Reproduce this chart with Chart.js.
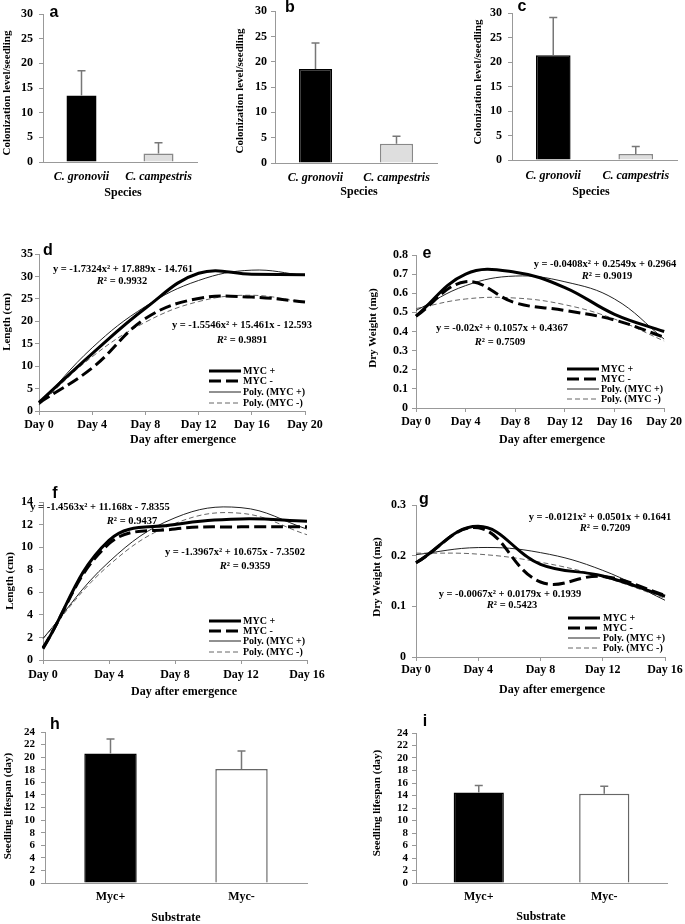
<!DOCTYPE html>
<html>
<head>
<meta charset="utf-8">
<script src="https://cdn.jsdelivr.net/npm/chart.js@4.4.0/dist/chart.umd.min.js"></script>
<style>
html, body { margin: 0; padding: 0; background: #fff; }
#page { position: relative; width: 685px; height: 924px; overflow: hidden; background: #fff; }
canvas { position: absolute; }
</style>
</head>
<body>
<div id="page">
  <canvas id="cA"></canvas><canvas id="cB"></canvas><canvas id="cC"></canvas>
  <canvas id="cD"></canvas><canvas id="cE"></canvas>
  <canvas id="cF"></canvas><canvas id="cG"></canvas>
  <canvas id="cH"></canvas><canvas id="cI"></canvas>
</div>
<script>
// ==================== Data ====================
const speciesLabels = ['C. gronovii', 'C. campestris'];
const colA = [13.5, 1.7];   const colAErr = [5.0, 2.2];
const colB = [18.6, 3.8];   const colBErr = [5.1, 1.5];
const colC = [21.4, 1.25];  const colCErr = [7.7, 1.5];

const substrateLabels = ['Myc+', 'Myc-'];
const lifeH = [20.6, 18.1]; const lifeHErr = [2.3, 2.9];
const lifeI = [14.5, 14.3]; const lifeIErr = [1.1, 1.2];

const days20 = ['Day 0', 'Day 4', 'Day 8', 'Day 12', 'Day 16', 'Day 20'];
const days16 = ['Day 0', 'Day 4', 'Day 8', 'Day 12', 'Day 16'];
const seriesNames = ['MYC +', 'MYC -', 'Poly. (MYC +)', 'Poly. (MYC -)'];

// d: length, 20 days
const dMycPlus  = [1.9, 12.8, 22.9, 30.7, 30.5, 30.4];
const dMycMinus = [1.8, 9.6, 20.6, 25.1, 25.4, 24.3];
const dPolyPlus = [1.4, 14.1, 23.3, 29.1, 31.4, 30.2];
const dPolyMinus = [1.3, 12.1, 19.8, 24.4, 25.8, 24.2];
// e: dry weight, 20 days
const eMycPlus  = [0.48, 0.70, 0.71, 0.63, 0.49, 0.40];
const eMycMinus = [0.48, 0.66, 0.55, 0.51, 0.46, 0.37];
const ePolyPlus = [0.51, 0.64, 0.69, 0.66, 0.57, 0.36];
const ePolyMinus = [0.52, 0.57, 0.575, 0.54, 0.465, 0.35];
// f: length, 16 days
const fMycPlus  = [1.0, 10.6, 12.0, 12.5, 12.3];
const fMycMinus = [1.1, 10.3, 11.6, 11.8, 11.8];
const fPolyPlus = [1.9, 8.7, 12.6, 13.5, 11.6];
const fPolyMinus = [1.9, 8.4, 12.1, 13.0, 11.1];
// g: dry weight, 16 days
const gMycPlus  = [0.186, 0.258, 0.183, 0.160, 0.120];
const gMycMinus = [0.186, 0.255, 0.148, 0.159, 0.122];
const gPolyPlus = [0.202, 0.216, 0.206, 0.171, 0.112];
const gPolyMinus = [0.205, 0.203, 0.187, 0.158, 0.116];

// ==================== Fonts / helpers ====================
const SERIF = '"Liberation Serif", "Times New Roman", serif';
const SANS = '"Liberation Sans", Arial, sans-serif';
const F_EQ = 'bold 10.5px ' + SERIF;
const F_R = 'italic bold 10.5px ' + SERIF;
const F_TITLE = 'bold 12px ' + SERIF;
const F_YTITLE = 'bold 11px ' + SERIF;
const F_LEG = 'bold 10px ' + SERIF;
const F_LETTER = 'bold 16px ' + SANS;
const AXIS_GRAY = '#999';
const Y_W = 30, X_H = 30;

const EXTRAS = {};

function eq(x, y, text) { return { x, y, parts: [[text, F_EQ]] }; }
function r2(x, y, val) { return { x, y, parts: [['R', F_R], ['\u00b2 = ' + val, F_EQ]] }; }

function drawRich(ctx, parts, cx, cy) {
  let total = 0;
  parts.forEach(p => { ctx.font = p[1]; total += ctx.measureText(p[0]).width; });
  let x = cx - total / 2;
  ctx.textAlign = 'left';
  ctx.textBaseline = 'middle';
  parts.forEach(p => { ctx.font = p[1]; ctx.fillText(p[0], x, cy); x += ctx.measureText(p[0]).width; });
}

const extrasPlugin = {
  id: 'extras',
  afterDatasetsDraw(chart) {
    const ex = EXTRAS[chart.canvas.id];
    if (!ex || !ex.errors) return;
    const ctx = chart.ctx, ys = chart.scales.y;
    const meta = chart.getDatasetMeta(0);
    const vals = chart.data.datasets[0].data;
    ctx.save();
    ctx.strokeStyle = '#777';
    ctx.lineWidth = 1.5;
    meta.data.forEach((bar, i) => {
      const yTop = ys.getPixelForValue(vals[i] + ex.errors[i]);
      ctx.beginPath();
      ctx.moveTo(bar.x, bar.y); ctx.lineTo(bar.x, yTop);
      ctx.moveTo(bar.x - 4, yTop); ctx.lineTo(bar.x + 4, yTop);
      ctx.stroke();
    });
    ctx.restore();
  },
  afterDraw(chart) {
    const ex = EXTRAS[chart.canvas.id];
    if (!ex) return;
    const ctx = chart.ctx, box = ex.box;
    ctx.save();
    ctx.translate(-box.x, -box.y);
    ctx.fillStyle = '#000';
    // panel letter
    ctx.font = F_LETTER; ctx.textAlign = 'center'; ctx.textBaseline = 'middle';
    ctx.fillText(ex.letter[0], ex.letter[1], ex.letter[2]);
    // axis titles
    ctx.font = F_TITLE;
    ctx.fillText(ex.xTitle[0], ex.xTitle[1], ex.xTitle[2]);
    ctx.save();
    ctx.translate(ex.yTitle[1], ex.yTitle[2]);
    ctx.rotate(-Math.PI / 2);
    ctx.font = F_YTITLE;
    ctx.fillText(ex.yTitle[0], 0, 0);
    ctx.restore();
    // trendline equations
    (ex.notes || []).forEach(n => drawRich(ctx, n.parts, n.x, n.y));
    // legend
    if (ex.legend) {
      const lg = ex.legend;
      chart.data.datasets.forEach((ds, i) => {
        const y = lg.rows[i];
        ctx.save();
        ctx.strokeStyle = ds.borderColor;
        ctx.lineWidth = ds.borderWidth;
        ctx.setLineDash(ds.borderDash || []);
        ctx.beginPath(); ctx.moveTo(lg.x1, y); ctx.lineTo(lg.x2, y); ctx.stroke();
        ctx.restore();
        ctx.font = F_LEG; ctx.textAlign = 'left'; ctx.textBaseline = 'middle';
        ctx.fillText(ds.label, lg.tx, y);
      });
    }
    ctx.restore();
  }
};
Chart.register(extrasPlugin);

function setupCanvas(id, box) {
  const c = document.getElementById(id);
  c.width = box.w; c.height = box.h;
  c.style.left = box.x + 'px'; c.style.top = box.y + 'px';
  c.style.width = box.w + 'px'; c.style.height = box.h + 'px';
  return c;
}

function padFor(box, plot) {
  return {
    left: plot.l - box.x - Y_W,
    top: plot.t - box.y,
    right: box.x + box.w - plot.r,
    bottom: box.y + box.h - plot.b - X_H
  };
}

function yAxis(max, step, tickLen, pad, size) {
  return {
    min: 0, max: max,
    ticks: { stepSize: step, padding: pad, color: '#000', autoSkip: false,
      font: { family: SERIF, size: size || 12, weight: 'bold' } },
    grid: { display: true, drawOnChartArea: false, drawTicks: true, tickLength: tickLen, color: AXIS_GRAY },
    border: { display: true, color: AXIS_GRAY, width: 1 },
    afterFit: s => { s.width = Y_W; }
  };
}

function xAxis(offset, tickLen, pad, italic) {
  return {
    offset: offset,
    ticks: { padding: pad, color: '#000', autoSkip: false, maxRotation: 0,
      font: { family: SERIF, size: 12, weight: 'bold', style: italic ? 'italic' : 'normal' } },
    grid: { display: tickLen > 0, drawOnChartArea: false, drawTicks: tickLen > 0, tickLength: tickLen, color: AXIS_GRAY },
    border: { display: true, color: AXIS_GRAY, width: 1 },
    afterFit: s => { s.height = X_H; }
  };
}

// ==================== Bar panels ====================
function barChart(id, box, plot, o) {
  const canvas = setupCanvas(id, box);
  EXTRAS[id] = Object.assign({ box: box }, o.extras);
  return new Chart(canvas, {
    type: 'bar',
    data: {
      labels: o.labels,
      datasets: [{ data: o.values, backgroundColor: o.fills, borderColor: o.borders, borderWidth: 1.5,
        barPercentage: o.barPct, categoryPercentage: 1 }]
    },
    options: {
      responsive: false, animation: false, devicePixelRatio: 1,
      layout: { padding: padFor(box, plot) },
      plugins: { legend: { display: false }, tooltip: { enabled: false } },
      scales: { x: xAxis(true, 0, o.xPad, o.italic), y: yAxis(o.yMax, o.yStep, 4, o.yPad, o.ySize) }
    }
  });
}

// ==================== Line panels ====================
function lineChart(id, box, plot, o) {
  const canvas = setupCanvas(id, box);
  EXTRAS[id] = Object.assign({ box: box }, o.extras);
  const mk = (label, data, width, color, dash) => ({
    label, data, borderColor: color, borderWidth: width, borderDash: dash,
    pointRadius: 0, tension: 0.4, fill: false
  });
  return new Chart(canvas, {
    type: 'line',
    data: {
      labels: o.labels,
      datasets: [
        mk(seriesNames[0], o.series[0], 3, '#000', []),
        mk(seriesNames[1], o.series[1], 3, '#000', [12, 5]),
        mk(seriesNames[2], o.series[2], 1, '#222', []),
        mk(seriesNames[3], o.series[3], 1, '#666', [5, 3])
      ]
    },
    options: {
      responsive: false, animation: false, devicePixelRatio: 1,
      layout: { padding: padFor(box, plot) },
      plugins: { legend: { display: false }, tooltip: { enabled: false } },
      scales: { x: xAxis(false, 4, o.xPad, false), y: yAxis(o.yMax, o.yStep, 4, o.yPad) }
    }
  });
}

// a, b, c
barChart('cA', { x: 0, y: 0, w: 228, h: 205 }, { l: 43, r: 197, t: 14, b: 162 }, {
  labels: speciesLabels, values: colA, fills: ['#000', '#dedede'], borders: ['#000', '#888'],
  barPct: 0.39, xPad: 8, italic: true, yMax: 30, yStep: 5, yPad: 6,
  extras: { errors: colAErr, letter: ['a', 54, 13], xTitle: ['Species', 123, 193], yTitle: ['Colonization level/seedling', 7, 93] }
});
barChart('cB', { x: 228, y: 0, w: 227, h: 205 }, { l: 275, r: 437, t: 10, b: 163 }, {
  labels: speciesLabels, values: colB, fills: ['#000', '#dedede'], borders: ['#000', '#888'],
  barPct: 0.41, xPad: 8, italic: true, yMax: 30, yStep: 5, yPad: 4,
  extras: { errors: colBErr, letter: ['b', 290, 8], xTitle: ['Species', 359, 192], yTitle: ['Colonization level/seedling', 240, 91] }
});
barChart('cC', { x: 455, y: 0, w: 230, h: 205 }, { l: 512, r: 677, t: 8, b: 160 }, {
  labels: speciesLabels, values: colC, fills: ['#000', '#dedede'], borders: ['#000', '#888'],
  barPct: 0.42, xPad: 9, italic: true, yMax: 30, yStep: 5, yPad: 6,
  extras: { errors: colCErr, letter: ['c', 522, 7], xTitle: ['Species', 591, 192], yTitle: ['Colonization level/seedling', 478, 82] }
});

// d, e
lineChart('cD', { x: 0, y: 230, w: 345, h: 220 }, { l: 39, r: 305, t: 254, b: 411 }, {
  labels: days20, series: [dMycPlus, dMycMinus, dPolyPlus, dPolyMinus],
  xPad: 3, yMax: 35, yStep: 5, yPad: 2,
  extras: {
    letter: ['d', 48, 251], xTitle: ['Day after emergence', 183, 440], yTitle: ['Length (cm)', 7, 322],
    notes: [eq(123, 269, 'y = -1.7324x\u00b2 + 17.889x - 14.761'), r2(122, 281, '0.9932'),
            eq(242, 325, 'y = -1.5546x\u00b2 + 15.461x - 12.593'), r2(242, 340, '0.9891')],
    legend: { x1: 209, x2: 241, tx: 243, rows: [371, 381, 392, 403] }
  }
});
lineChart('cE', { x: 345, y: 230, w: 340, h: 220 }, { l: 416, r: 667, t: 255, b: 408 }, {
  labels: days20, series: [eMycPlus, eMycMinus, ePolyPlus, ePolyMinus],
  xPad: 3, yMax: 0.8, yStep: 0.1, yPad: 4,
  extras: {
    letter: ['e', 427, 254], xTitle: ['Day after emergence', 552, 440], yTitle: ['Dry Weight (mg)', 373, 328],
    notes: [eq(605, 264, 'y = -0.0408x\u00b2 + 0.2549x + 0.2964'), r2(607, 276, '0.9019'),
            eq(502, 328, 'y = -0.02x\u00b2 + 0.1057x + 0.4367'), r2(500, 342, '0.7509')],
    legend: { x1: 567, x2: 599, tx: 601, rows: [369, 379, 389, 399] }
  }
});

// f, g
lineChart('cF', { x: 0, y: 470, w: 345, h: 235 }, { l: 43, r: 307, t: 502, b: 660 }, {
  labels: days16, series: [fMycPlus, fMycMinus, fPolyPlus, fPolyMinus],
  xPad: 4, yMax: 14, yStep: 2, yPad: 6,
  extras: {
    letter: ['f', 55, 494], xTitle: ['Day after emergence', 184, 692], yTitle: ['Length (cm)', 10, 581],
    notes: [eq(100, 507, 'y = -1.4563x\u00b2 + 11.168x - 7.8355'), r2(132, 521, '0.9437'),
            eq(235, 552, 'y = -1.3967x\u00b2 + 10.675x - 7.3502'), r2(245, 566, '0.9359')],
    legend: { x1: 209, x2: 241, tx: 243, rows: [621, 631, 641, 652] }
  }
});
lineChart('cG', { x: 345, y: 470, w: 340, h: 235 }, { l: 416, r: 665, t: 505, b: 657 }, {
  labels: days16, series: [gMycPlus, gMycMinus, gPolyPlus, gPolyMinus],
  xPad: 2, yMax: 0.3, yStep: 0.1, yPad: 6,
  extras: {
    letter: ['g', 424, 500], xTitle: ['Day after emergence', 552, 690], yTitle: ['Dry Weight (mg)', 377, 577],
    notes: [eq(600, 517, 'y = -0.0121x\u00b2 + 0.0501x + 0.1641'), r2(605, 528, '0.7209'),
            eq(510, 594, 'y = -0.0067x\u00b2 + 0.0179x + 0.1939'), r2(512, 605, '0.5423')],
    legend: { x1: 568, x2: 600, tx: 603, rows: [618, 628, 638, 648] }
  }
});

// h, i
barChart('cH', { x: 0, y: 705, w: 345, h: 219 }, { l: 45, r: 307, t: 732, b: 883 }, {
  labels: substrateLabels, values: lifeH, fills: ['#000', '#fff'], borders: ['#000', '#666'],
  barPct: 0.40, xPad: 7, italic: false, yMax: 24, yStep: 2, yPad: 6, ySize: 11,
  extras: { errors: lifeHErr, letter: ['h', 55, 725], xTitle: ['Substrate', 176, 918], yTitle: ['Seedling lifespan (day)', 8, 806] }
});
barChart('cI', { x: 345, y: 705, w: 340, h: 219 }, { l: 416, r: 667, t: 733, b: 883 }, {
  labels: substrateLabels, values: lifeI, fills: ['#000', '#fff'], borders: ['#000', '#666'],
  barPct: 0.40, xPad: 7, italic: false, yMax: 24, yStep: 2, yPad: 4, ySize: 11,
  extras: { errors: lifeIErr, letter: ['i', 425, 722], xTitle: ['Substrate', 541, 917], yTitle: ['Seedling lifespan (day)', 377, 803] }
});
</script>
</body>
</html>
